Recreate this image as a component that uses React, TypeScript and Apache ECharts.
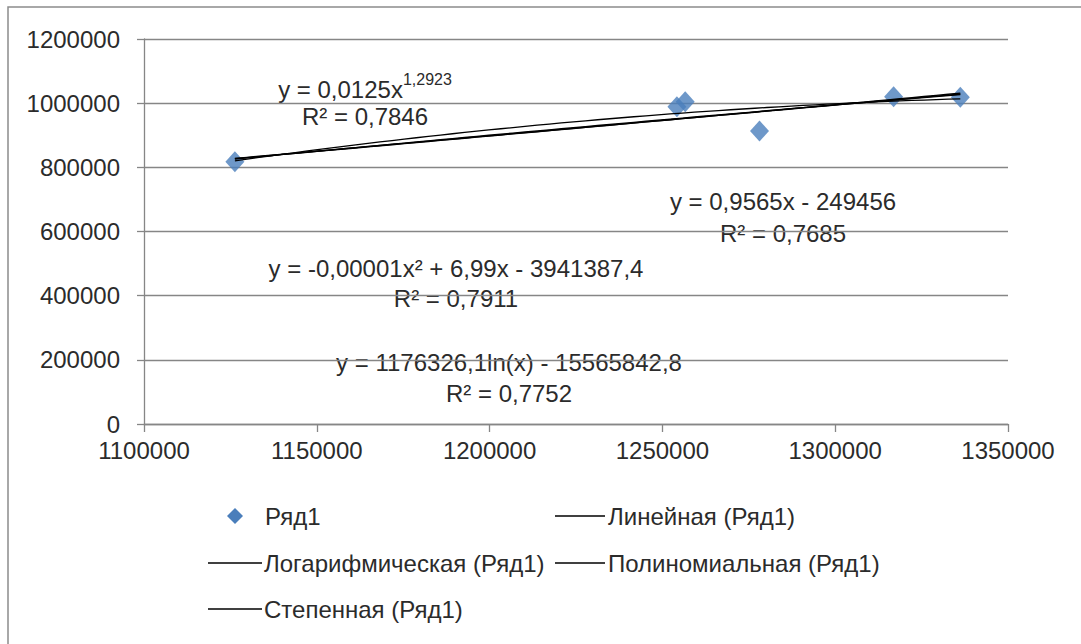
import React, { useEffect, useRef } from "react";
import * as echarts from "echarts";

// Observed data (Ряд1)
const seriesName = "Ряд1";
const xValues = [1126300, 1254200, 1256600, 1278100, 1316900, 1336200];
const yValues = [817600, 989000, 1004600, 913200, 1020200, 1018300];

// Axis settings
const xTicks = { min: 1100000, max: 1350000, interval: 50000 };
const yTicks = { min: 0, max: 1200000, interval: 200000 };

// Trendline equations as printed on the chart
const linearCoef = { a: 0.9565, b: -249456 };
const logCoef = { a: 1176326.1, b: -15565842.8 };
const powerCoef = { a: 0.0125, b: 1.2923 };

const trendNames = [
  "Линейная (Ряд1)",
  "Логарифмическая (Ряд1)",
  "Полиномиальная (Ряд1)",
  "Степенная (Ряд1)",
];

const eqLabels = {
  power: ["y = 0,0125x", "1,2923", "R² = 0,7846"],
  linear: ["y = 0,9565x - 249456", "R² = 0,7685"],
  poly: ["y = -0,00001x² + 6,99x - 3941387,4", "R² = 0,7911"],
  log: ["y = 1176326,1ln(x) - 15565842,8", "R² = 0,7752"],
};

// Least-squares quadratic (printed coefficients are too rounded to plot)
function fitQuadratic(xs: number[], ys: number[]) {
  const c = 1250000;
  const s = 100000;
  const u = xs.map((x) => (x - c) / s);
  const S = [0, 0, 0, 0, 0];
  const T = [0, 0, 0];
  u.forEach((v, i) => {
    for (let k = 0; k < 5; k++) S[k] += Math.pow(v, k);
    for (let k = 0; k < 3; k++) T[k] += Math.pow(v, k) * ys[i];
  });
  const M = [
    [S[0], S[1], S[2], T[0]],
    [S[1], S[2], S[3], T[1]],
    [S[2], S[3], S[4], T[2]],
  ];
  for (let i = 0; i < 3; i++) {
    for (let j = i + 1; j < 3; j++) {
      const f = M[j][i] / M[i][i];
      for (let k = i; k < 4; k++) M[j][k] -= f * M[i][k];
    }
  }
  const r = [0, 0, 0];
  for (let i = 2; i >= 0; i--) {
    let v = M[i][3];
    for (let k = i + 1; k < 3; k++) v -= M[i][k] * r[k];
    r[i] = v / M[i][i];
  }
  return (x: number) => {
    const t = (x - c) / s;
    return r[0] + r[1] * t + r[2] * t * t;
  };
}

function sampleCurve(fn: (x: number) => number) {
  const lo = Math.min(...xValues);
  const hi = Math.max(...xValues);
  const n = 60;
  const out: number[][] = [];
  for (let i = 0; i <= n; i++) {
    const x = lo + ((hi - lo) * i) / n;
    out.push([x, fn(x)]);
  }
  return out;
}

const FONT = "'Liberation Sans', Arial, sans-serif";
const FS = 24;
const TEXT = "#2b2b2b";
const GRID = "#868686";

export default function App() {
  const ref = useRef<HTMLDivElement>(null);

  useEffect(() => {
    if (!ref.current) return;
    const chart = echarts.init(ref.current, undefined, { renderer: "svg" });

    const quad = fitQuadratic(xValues, yValues);
    const curves = [
      sampleCurve((x) => linearCoef.a * x + linearCoef.b),
      sampleCurve((x) => logCoef.a * Math.log(x) + logCoef.b),
      sampleCurve(quad),
      sampleCurve((x) => powerCoef.a * Math.pow(x, powerCoef.b)),
    ];

    const eqText = (cx: number, cy: number, text: string) => ({
      type: "text",
      x: cx,
      y: cy,
      style: {
        text,
        fontSize: FS,
        fontFamily: FONT,
        fill: TEXT,
        align: "center",
        verticalAlign: "middle",
      },
    });

    const legendLine = (x1: number, x2: number, y: number) => ({
      type: "line",
      shape: { x1, y1: y, x2, y2: y },
      style: { stroke: "#000", lineWidth: 1.3 },
    });
    const legendText = (x: number, y: number, text: string) => ({
      type: "text",
      x,
      y,
      style: {
        text,
        fontSize: FS,
        fontFamily: FONT,
        fill: TEXT,
        align: "left",
        verticalAlign: "middle",
      },
    });

    chart.setOption({
      animation: false,
      backgroundColor: "#fff",
      grid: { left: 144, right: 73, top: 39, bottom: 220 },
      xAxis: {
        type: "value",
        min: xTicks.min,
        max: xTicks.max,
        interval: xTicks.interval,
        axisLine: { show: true, lineStyle: { color: GRID, width: 1.3 } },
        axisTick: { show: true, length: 8, lineStyle: { color: GRID, width: 1.3 } },
        splitLine: { show: false },
        axisLabel: {
          margin: 14,
          fontSize: FS,
          lineHeight: 24,
          fontFamily: FONT,
          color: TEXT,
          formatter: (v: number) => String(v),
        },
      },
      yAxis: {
        type: "value",
        min: yTicks.min,
        max: yTicks.max,
        interval: yTicks.interval,
        axisLine: { show: true, lineStyle: { color: GRID, width: 1.3 } },
        axisTick: { show: true, length: 7, lineStyle: { color: GRID, width: 1.3 } },
        splitLine: { show: true, lineStyle: { color: GRID, width: 1.3 } },
        axisLabel: {
          margin: 24,
          fontSize: FS,
          lineHeight: 22,
          fontFamily: FONT,
          color: TEXT,
          formatter: (v: number) => String(v),
        },
      },
      series: [
        ...curves.map((data, i) => ({
          name: trendNames[i],
          type: "line",
          data,
          showSymbol: false,
          symbol: "none",
          lineStyle: { color: "#000", width: 1.3 },
          z: 3,
        })),
        {
          name: seriesName,
          type: "scatter",
          data: xValues.map((x, i) => [x, yValues[i]]),
          symbol: "diamond",
          symbolSize: [19, 21],
          itemStyle: { color: "#4a7ebb" },
          z: 2,
        },
      ],
      graphic: [
        // outer chart frame
        {
          type: "rect",
          shape: { x: 8, y: 7, width: 1200, height: 800 },
          style: { fill: "none", stroke: "#8c8c8c", lineWidth: 1.5 },
          silent: true,
        },
        // power trendline equation with superscript exponent
        {
          type: "text",
          x: 365,
          y: 86,
          style: {
            text: `{b|${eqLabels.power[0]}}{s|${eqLabels.power[1]}}`,
            align: "center",
            verticalAlign: "middle",
            rich: {
              b: { fontSize: FS, fontFamily: FONT, fill: TEXT, lineHeight: 30, verticalAlign: "bottom" },
              s: { fontSize: 16, fontFamily: FONT, fill: TEXT, lineHeight: 18, verticalAlign: "top" },
            },
          },
        },
        eqText(365, 116, eqLabels.power[2]),
        eqText(783, 201, eqLabels.linear[0]),
        eqText(783, 233, eqLabels.linear[1]),
        eqText(456, 268, eqLabels.poly[0]),
        eqText(456, 298, eqLabels.poly[1]),
        eqText(509, 362, eqLabels.log[0]),
        eqText(509, 393, eqLabels.log[1]),
        // legend
        {
          type: "polygon",
          shape: { points: [[235, 508], [243, 516], [235, 524], [227, 516]] },
          style: { fill: "#4a7ebb" },
        },
        legendText(265, 516, seriesName),
        legendLine(555, 605, 516),
        legendText(608, 516, trendNames[0]),
        legendLine(208, 262, 563),
        legendText(264, 563, trendNames[1]),
        legendLine(555, 605, 563),
        legendText(608, 563, trendNames[2]),
        legendLine(208, 262, 609),
        legendText(264, 609, trendNames[3]),
      ],
    });

    return () => chart.dispose();
  }, []);

  return (
    <div
      ref={ref}
      style={{ position: "absolute", left: 0, top: 0, width: 1081, height: 644 }}
    />
  );
}
